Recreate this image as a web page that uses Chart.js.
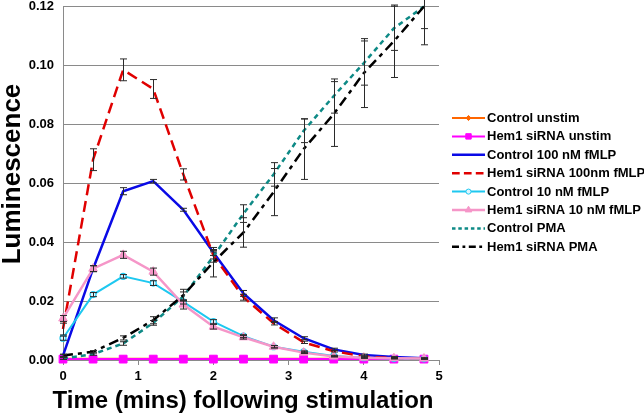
<!DOCTYPE html>
<html>
<head>
<meta charset="utf-8">
<script src="https://cdn.jsdelivr.net/npm/chart.js@4/dist/chart.umd.min.js"></script>
<style>
  html, body { margin: 0; padding: 0; background: #fff; }
  #wrap { width: 644px; height: 418px; position: relative; }
</style>
</head>
<body>
<div id="wrap"><canvas id="chart"></canvas></div>
<script>
// Temps (minutes)
const times = [0, 0.4, 0.8, 1.2, 1.6, 2.0, 2.4, 2.8, 3.2, 3.6, 4.0, 4.4, 4.8];
const xTicks = [0, 1, 2, 3, 4, 5];
const yTicks = [0, 0.02, 0.04, 0.06, 0.08, 0.10, 0.12];

// Séries
const controlUnstim = [0.0004, 0.0004, 0.0004, 0.0004, 0.0004, 0.0004, 0.0004, 0.0004, 0.0004, 0.0004, 0.0004, 0.0004, 0.0004];
const hem1Unstim    = [0.0003, 0.0003, 0.0003, 0.0003, 0.0003, 0.0003, 0.0003, 0.0003, 0.0003, 0.0003, 0.0003, 0.0003, 0.0003];
const control100    = [0.0015, 0.031, 0.0573, 0.0607, 0.051, 0.0365, 0.0226, 0.0135, 0.0074, 0.0036, 0.0017, 0.001, 0.0006];
const hem1100       = [0.0105, 0.068, 0.0985, 0.092, 0.063, 0.0355, 0.0213, 0.0125, 0.006, 0.003, 0.0012, 0.0006, 0.0004];
const control10     = [0.0074, 0.0222, 0.0284, 0.0261, 0.0197, 0.013, 0.0081, 0.0045, 0.0028, 0.0014, 0.0008, 0.0005, 0.0004];
const hem110        = [0.0141, 0.031, 0.0357, 0.030, 0.0188, 0.0113, 0.0077, 0.0045, 0.0025, 0.0012, 0.0008, 0.0006, 0.0005];
const controlPMA    = [0.0005, 0.002, 0.0056, 0.0126, 0.0216, 0.0352, 0.0497, 0.063, 0.0778, 0.0896, 0.1008, 0.1126, 0.12];
const hem1PMA       = [0.0015, 0.0028, 0.0075, 0.0135, 0.022, 0.0332, 0.0433, 0.057, 0.0716, 0.0835, 0.0974, 0.1082, 0.12];

// Barres d'erreur (+/-)
const control100Err = [0.0005, 0.001, 0.0012, 0.0006, 0.0005, 0.001, 0.001, 0.0008, 0.0005, 0.0004, 0.0003, 0.0002, 0.0002];
const hem1100Err    = [0.002, 0.0037, 0.0037, 0.0032, 0.0019, 0.0012, 0.001, 0.0006, 0.0004, 0.0003, 0.0002, 0.0002, 0.0001];
const control10Err  = [0.0007, 0.0007, 0.0006, 0.0008, 0.0007, 0.0007, 0.0005, 0.0004, 0.0003, 0.0002, 0.0002, 0.0001, 0.0001];
const hem110Err     = [0.001, 0.001, 0.0012, 0.0012, 0.0015, 0.0008, 0.0006, 0.0004, 0.0003, 0.0002, 0.0002, 0.0001, 0.0001];
const controlPMAErr = [0.0003, 0.0004, 0.0006, 0.0008, 0.0015, 0.002, 0.003, 0.004, 0.004, 0.0058, 0.0075, 0.0075, 0.0075];
const hem1PMAErr    = [0.0003, 0.0004, 0.0007, 0.0012, 0.002, 0.005, 0.005, 0.008, 0.0103, 0.011, 0.0117, 0.0123, 0.013];

const FONT = '"Liberation Sans", Arial, Helvetica, sans-serif';

function pts(values) {
    return values.map((v, i) => ({ x: times[i], y: v }));
}

const datasets = [
    { label: 'Control unstim', data: pts(controlUnstim), borderColor: '#FF6600', backgroundColor: '#FF6600',
      borderWidth: 2, pointStyle: 'rectRot', pointRadius: 3, errors: null },
    { label: 'Hem1 siRNA unstim', data: pts(hem1Unstim), borderColor: '#FF00FF', backgroundColor: '#FF00FF',
      borderWidth: 2, pointStyle: 'rect', pointRadius: 5.5, errors: null },
    { label: 'Control 100 nM fMLP', data: pts(control100), borderColor: '#0A0AE6', backgroundColor: '#0A0AE6',
      borderWidth: 2.5, pointRadius: 0, errors: control100Err },
    { label: 'Hem1 siRNA 100nm fMLP', data: pts(hem1100), borderColor: '#E00000', backgroundColor: '#E00000',
      borderWidth: 2.5, borderDash: [11, 6], pointRadius: 0, errors: hem1100Err },
    { label: 'Control 10 nM fMLP', data: pts(control10), borderColor: '#1EC8F0', backgroundColor: '#DDF6FF',
      borderWidth: 2, pointStyle: 'circle', pointRadius: 3, pointBorderWidth: 1.2, errors: control10Err },
    { label: 'Hem1 siRNA 10 nM fMLP', data: pts(hem110), borderColor: '#F596C8', backgroundColor: '#F596C8',
      borderWidth: 2.5, pointStyle: 'triangle', pointRadius: 5, errors: hem110Err },
    { label: 'Control PMA', data: pts(controlPMA), borderColor: '#0E8A86', backgroundColor: '#0E8A86',
      borderWidth: 2.5, borderDash: [5, 4], pointRadius: 0, errors: controlPMAErr },
    { label: 'Hem1 siRNA PMA', data: pts(hem1PMA), borderColor: '#000000', backgroundColor: '#000000',
      borderWidth: 2.5, borderDash: [10, 5, 4, 5], pointRadius: 0, errors: hem1PMAErr },
];

datasets.forEach((d, i) => {
    d.tension = 0;
    d.fill = false;
    d.showLine = true;
    d.clip = false;
    d.order = datasets.length - i; // les dernières séries par-dessus
    d.pointBackgroundColor = d.backgroundColor;
    d.pointBorderColor = d.borderColor;
    if (d.pointBorderWidth === undefined) d.pointBorderWidth = 1;
});

// Barres d'erreur dessinées avec les échelles
const errorBars = {
    id: 'errorBars',
    afterDatasetsDraw(chart) {
        const ctx = chart.ctx;
        const xs = chart.scales.x, ys = chart.scales.y;
        ctx.save();
        ctx.strokeStyle = '#2a2a2a';
        ctx.lineWidth = 1;
        chart.data.datasets.forEach(ds => {
            if (!ds.errors) return;
            ds.data.forEach((p, i) => {
                const e = ds.errors[i];
                const x = Math.round(xs.getPixelForValue(p.x)) + 0.5;
                const yTop = ys.getPixelForValue(p.y + e);
                const yBot = ys.getPixelForValue(Math.max(0, p.y - e));
                ctx.beginPath();
                ctx.moveTo(x, yTop); ctx.lineTo(x, yBot);
                ctx.moveTo(x - 3.5, yTop); ctx.lineTo(x + 3.5, yTop);
                ctx.moveTo(x - 3.5, yBot); ctx.lineTo(x + 3.5, yBot);
                ctx.stroke();
            });
        });
        ctx.restore();
    }
};

// Légende et titres des axes
const decorations = {
    id: 'decorations',
    afterDraw(chart) {
        const ctx = chart.ctx;
        ctx.save();
        // légende
        ctx.font = 'bold 13px ' + FONT;
        ctx.textBaseline = 'middle';
        ctx.textAlign = 'left';
        chart.data.datasets.forEach((ds, i) => {
            const y = 118 + i * 18.4;
            ctx.strokeStyle = ds.borderColor;
            ctx.lineWidth = ds.borderWidth;
            ctx.setLineDash(ds.borderDash ? ds.borderDash.map(v => v * 0.7) : []);
            ctx.beginPath();
            ctx.moveTo(452, y); ctx.lineTo(485, y);
            ctx.stroke();
            ctx.setLineDash([]);
            if (ds.pointRadius > 0) {
                ctx.fillStyle = ds.pointBackgroundColor;
                ctx.strokeStyle = ds.pointBorderColor;
                ctx.lineWidth = 1;
                Chart.helpers.drawPoint(ctx, {
                    pointStyle: ds.pointStyle, radius: Math.min(ds.pointRadius, 4.5) * 0.85, borderWidth: 1, rotation: 0
                }, 468.5, y);
            }
            ctx.fillStyle = '#000';
            ctx.fillText(ds.label, 487, y + 0.5);
        });
        // titre axe X
        ctx.font = 'bold 24px ' + FONT;
        ctx.textAlign = 'center';
        ctx.fillText('Time (mins) following stimulation', 243, 401);
        // titre axe Y
        ctx.translate(13, 174);
        ctx.rotate(-Math.PI / 2);
        ctx.font = 'bold 26px ' + FONT;
        ctx.fillText('Luminescence', 0, 0);
        ctx.restore();
    }
};

new Chart(document.getElementById('chart').getContext('2d'), {
    type: 'scatter',
    data: { datasets: datasets },
    options: {
        responsive: true,
        maintainAspectRatio: false,
        animation: false,
        layout: { padding: { top: 5, right: 205, left: 0, bottom: 0 } },
        plugins: {
            legend: { display: false },
            tooltip: { enabled: false },
        },
        scales: {
            x: {
                type: 'linear', min: 0, max: 5,
                afterBuildTicks: s => { s.ticks = xTicks.map(v => ({ value: v })); },
                afterFit: s => { s.height = 58; s.paddingLeft = 0; s.paddingRight = 0; },
                grid: { drawOnChartArea: false, color: '#8a8a8a', tickLength: 5 },
                border: { color: '#8a8a8a' },
                ticks: { color: '#000', font: { family: FONT, size: 13, weight: 'bold' }, padding: 4 },
            },
            y: {
                type: 'linear', min: 0, max: 0.12,
                afterBuildTicks: s => { s.ticks = yTicks.map(v => ({ value: v })); },
                afterFit: s => { s.width = 63; s.paddingTop = 0; s.paddingBottom = 0; },
                grid: { color: '#8a8a8a', drawTicks: false },
                border: { color: '#8a8a8a' },
                ticks: {
                    color: '#000', font: { family: FONT, size: 13, weight: 'bold' }, padding: 9,
                    callback: v => v.toFixed(2)
                },
            },
        },
    },
    plugins: [errorBars, decorations],
});
</script>
</body>
</html>
